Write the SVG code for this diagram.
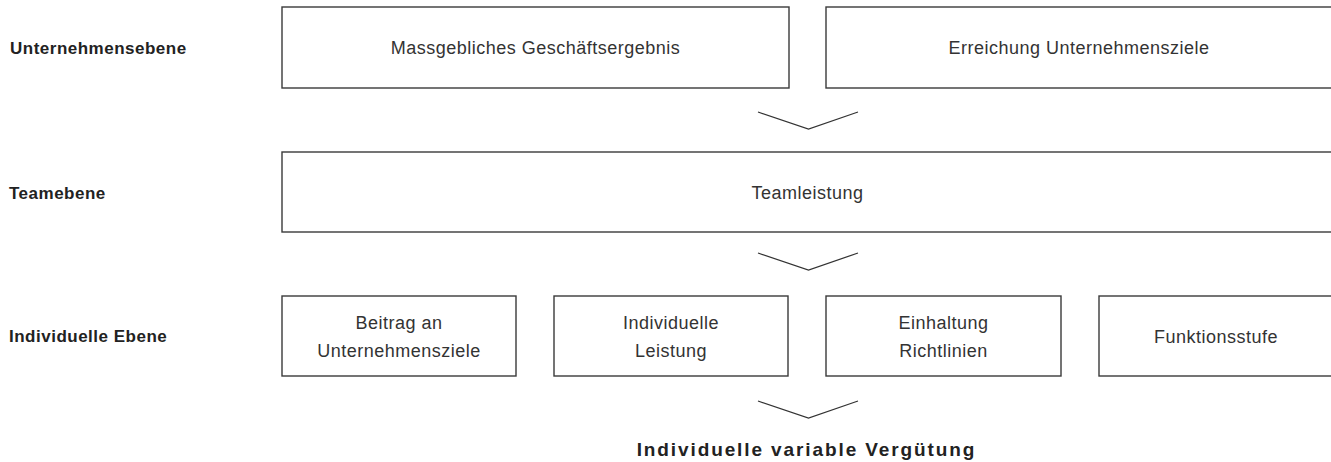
<svg xmlns="http://www.w3.org/2000/svg" width="1331" height="462" viewBox="0 0 1331 462">
<style>
.box{fill:#fff;stroke:#3a3a3a;stroke-width:1.4}
.lbl{font-family:"Liberation Sans",Arial,sans-serif;font-weight:bold;font-size:17px;letter-spacing:0.5px;fill:#222}
.txt{font-family:"Liberation Sans",Arial,sans-serif;font-size:18px;letter-spacing:0.5px;fill:#333;text-anchor:middle}
.chev{fill:none;stroke:#333;stroke-width:1.2}
.res{font-family:"Liberation Sans",Arial,sans-serif;font-weight:bold;font-size:19px;letter-spacing:1.9px;fill:#222;text-anchor:middle}
</style>
<rect width="1331" height="462" fill="#fff"/>
<g id="labels">
<text class="lbl" x="10" y="54">Unternehmensebene</text>
<text class="lbl" x="9" y="199">Teamebene</text>
<text class="lbl" x="9" y="342">Individuelle Ebene</text>
</g>
<g id="n-geschaeftsergebnis">
<rect class="box" x="282" y="7" width="507" height="81"/>
<text class="txt" x="535.5" y="54">Massgebliches Geschäftsergebnis</text>
</g>
<g id="n-unternehmensziele">
<rect class="box" x="826" y="7" width="507" height="81"/>
<text class="txt" x="1079" y="54">Erreichung Unternehmensziele</text>
</g>
<g id="n-teamleistung">
<rect class="box" x="282" y="152" width="1051" height="80"/>
<text class="txt" x="807.5" y="199">Teamleistung</text>
</g>
<g id="n-beitrag">
<rect class="box" x="282" y="296" width="234" height="80"/>
<text class="txt" x="399" y="329">Beitrag an</text>
<text class="txt" x="399" y="357">Unternehmensziele</text>
</g>
<g id="n-leistung">
<rect class="box" x="554" y="296" width="234" height="80"/>
<text class="txt" x="671" y="329">Individuelle</text>
<text class="txt" x="671" y="357">Leistung</text>
</g>
<g id="n-richtlinien">
<rect class="box" x="826" y="296" width="235" height="80"/>
<text class="txt" x="943.5" y="329">Einhaltung</text>
<text class="txt" x="943.5" y="357">Richtlinien</text>
</g>
<g id="n-funktionsstufe">
<rect class="box" x="1099" y="296" width="234" height="80"/>
<text class="txt" x="1216" y="343">Funktionsstufe</text>
</g>
<g id="connectors">
<polyline class="chev" points="758,112 808.5,129 858,112"/>
<polyline class="chev" points="758,253 808.5,270 858,253"/>
<polyline class="chev" points="758,401 808.5,418 858,401"/>
</g>
<g id="n-result">
<text class="res" x="806.5" y="456">Individuelle variable Vergütung</text>
</g>
</svg>
